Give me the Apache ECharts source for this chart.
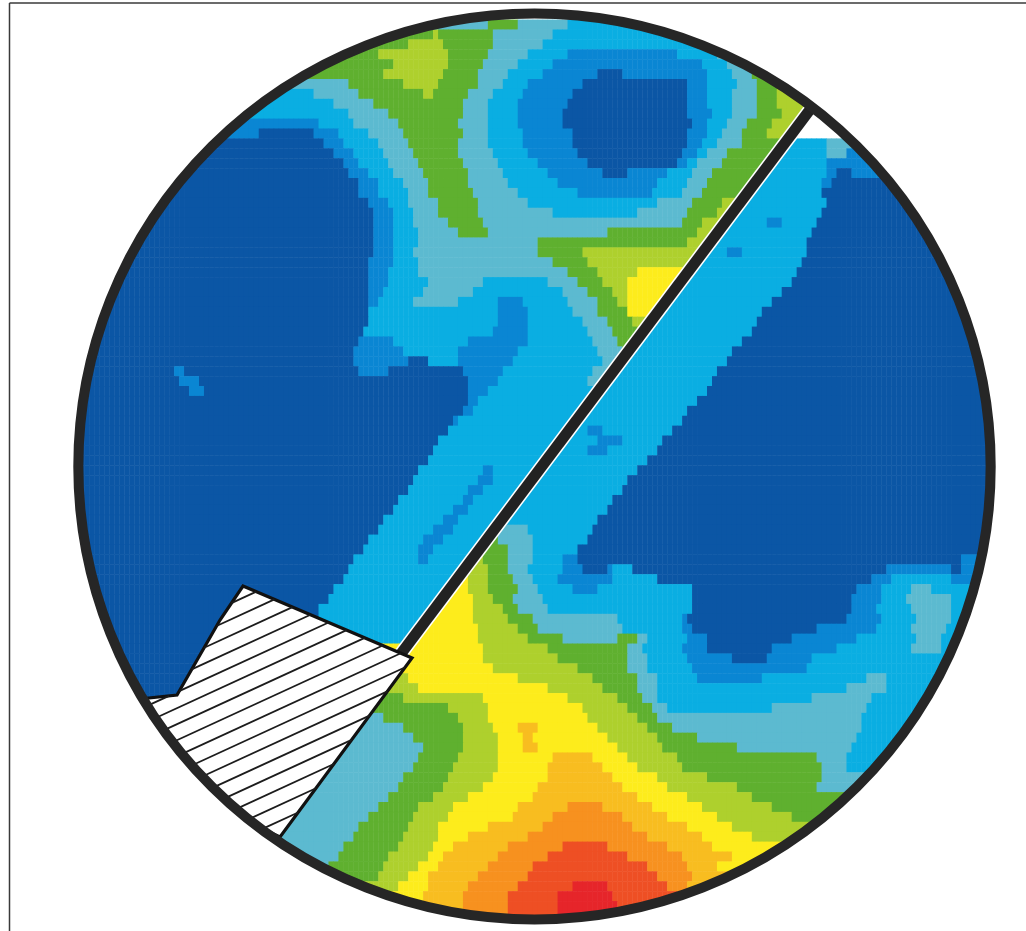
<!DOCTYPE html>
<html><head><meta charset="utf-8">
<style>html,body{margin:0;padding:0;background:#fff}#c{width:1026px;height:931px}</style>
<script src="https://cdn.jsdelivr.net/npm/echarts@6/dist/echarts.min.js"></script>
</head><body><div id="c"></div>
<script>
// Level names, low to high, and their colours
const levelNames = ['a','b','c','d','e','f','g','h','i','j','k'];
const levelColors = ['#0b56a5','#0a86d3','#0aaee2','#5cbad0','#5fb02f','#aed02d','#fdec1c','#f8bd20','#f7911f','#ee4f24','#e6252a'];
// Measured map: each scan line (10 units apart) lists level + the x where that level ends; x = no data
const scanLines = [
'','',
'd490 e522 d570 c800',
'e436 f442 e497 d555 c800',
'e412 f445 e494 d545 c800',
'e379 f449 e489 d532 c572 b680 c720 d800',
'e395 f449 e484 d519 c555 b704 c729 d800',
'e385 f447 e482 d509 c545 b602 a625 b710 c737 d756 e800',
'd350 e405 f440 e478 d505 c530 b585 a690 b712 c740 d760 e800',
'c315 d360 e425 f435 e470 d497 c525 b575 a690 b712 c736 d759 e782 f810',
'c335 d373 e465 d490 c520 b570 a690 b712 c735 d760 e780 f815 x999',
'c350 d390 e463 d488 c518 b565 a692 b713 c737 d760 e785 f811 x999',
'b320 c355 d400 e462 d490 c520 b567 a695 b710 c730 d752 e775 f803 x999',
'b258 a317 b342 c372 d405 e463 d490 c525 b575 a690 b708 c725 d745 e770 f796 x999',
'a325 b345 c380 d412 e462 d490 c525 b575 a688 b704 c722 d745 e789 c832 d850',
'a333 b355 c385 d417 e462 d497 c532 b582 a684 b700 c712 d730 e781 c832 d850 b860',
'a345 b362 c390 d420 e464 d500 c540 b592 a680 b690 c700 d725 e774 c830 b870',
'a352 b370 c395 d424 e468 d505 c550 b605 a630 b670 c696 d715 e767 c828 b842 a855 b870',
'a358 b378 c405 d428 e471 d512 c559 b660 c688 d712 e759 c825 b835 a880',
'a362 b382 c408 d429 e474 d519 c582 b655 c683 d705 e752 c825 a885',
'a372 b392 c410 d438 e481 d532 c660 d695 e725 f745 c828 a890',
'a374 b395 c415 d440 e482 d555 c640 d690 e718 f738 c826 a895',
'a377 b397 c417 d450 e485 d684 e706 f730 c770 b785 c818 a900',
'a377 b397 c418 d460 e490 d610 e700 f722 c815 a900',
'a377 b395 c418 d542 e690 f713 c812 a900',
'a375 b395 c415 d542 e584 f706 c730 b745 c811 a905',
'a372 b395 c418 d555 e589 f698 c806 a905',
'a372 b392 c420 d569 e599 f642 g690 c800 a910',
'a372 b392 c430 d485 c549 d580 e607 f629 g683 c795 a910',
'a372 b385 c425 d473 c565 d592 e615 f629 g676 c786 a910',
'a372 b380 c415 d460 c500 b525 c572 d600 e622 f630 g668 c777 a915',
'a372 c502 b532 c575 d602 e629 g661 c767 a915',
'a368 c500 b530 c585 d610 e635 f653 c760 a915',
'a366 c495 b532 c590 d616 e638 f646 c753 a920',
'a360 b395 c470 b528 c595 d620 e638 c745 a920',
'a355 b405 c462 b520 c600 d625 e631 c737 a920',
'a355 b410 a430 c460 b515 c603 d623 c730 a920',
'a175 b185 a360 b390 a465 b505 c595 d615 c722 a999',
'a182 b200 a470 b500 c590 d608 c716 a999',
'a190 b205 a472 b490 c708 a999',
'a472 b480 c700 a999',
'a465 b475 c692 a999',
'a455 b462 c684 a999',
'a450 c590 b605 c675 a999',
'a442 c600 b625 c666 a999',
'a435 c590 b610 c658 a999',
'a430 c649 a999',
'a422 c485 b497 c640 a999',
'a415 c480 b495 c632 a999',
'a408 c470 b485 c624 a999',
'a400 c465 b477 c617 a999',
'a395 c455 b470 c610 a999',
'a385 c445 b460 c602 a999',
'a380 c435 b455 c495 d530 c595 a999',
'a372 c425 b445 c488 e500 d535 c588 a999',
'a365 c420 b435 c481 e510 d533 c580 a999',
'a355 c418 b430 c473 f485 e510 d533 c565 b578 a967 b999',
'a352 c466 f489 e512 d530 c563 b585 a608 b615 c635 a891 b957 a967 b999',
'a345 c458 g470 f490 e515 d535 c560 b615 c658 a875 b897 c955 b999',
'a335 c450 g472 f492 e518 d542 c575 b602 c696 a860 b887 c914 d935 c999',
'a330 c443 g475 f497 e517 d545 c696 a855 b885 c912 d955 c999',
'a322 c435 g477 f505 e520 d548 c696 a853 b882 c916 d956 c999',
'a320 c428 g477 f510 e535 d620 c684 b691 a850 b887 c920 d955 c999',
'a310 c421 g479 f519 e542 d625 c684 b694 a820 b881 c917 d950 c999',
'a300 c413 g482 f529 e565 d619 e642 d650 c690 b708 a795 b860 c918 d945 c999',
'a300 g485 f549 e629 d647 c684 b711 a776 b841 c917 d945 c999',
'a300 g487 f562 e629 d649 c691 b734 a771 b817 c999',
'a300 g497 f578 e632 d652 c697 b811 c999',
'a300 f410 g522 f597 e640 d659 c701 b767 c870 d888 c999',
'a300 f422 g552 f607 e640 d660 c851 d891 c999',
'a250 e405 f487 g572 f619 e644 d662 c817 d877 c999',
'a250 e449 f489 g584 f630 e654 d672 c777 d872 c999',
'd385 e458 f492 g592 f642 e662 d867 c999',
'd405 e465 f494 g522 h538 g600 f650 e675 d866 c999',
'd417 e466 f499 g523 h537 g609 f659 e700 d861 c999',
'd424 e466 f502 g525 h540 g619 f667 e741 d856 c999',
'd422 e462 f502 g555 h595 g632 f680 e821 d852 c999',
'd414 e455 f499 g552 h605 g642 f684 e827 d850 c999',
'd405 e450 f494 g549 h615 g658 f709 e824 d999',
'd399 e444 f484 g542 h625 g670 f739 e822 d999',
'd389 e434 f470 g534 h639 g689 f757 e999',
'd380 e422 f457 g522 h568 i605 h654 g704 f776 e999',
'd372 e417 f449 g515 h555 i625 h669 g719 f794 e999',
'd360 e410 f441 g489 h545 i635 h692 g737 f999',
'd357 e405 f439 g469 h532 i652 h704 g754 f999',
'd347 e399 f435 g455 h509 i565 j609 i668 h717 g999',
'd342 e392 f432 g445 h502 i549 j631 i684 h734 g999',
'd330 e387 f422 g440 h489 i535 j649 i691 h720 g999',
'd330 e379 f412 g432 h479 i529 j659 i697 h999',
'f402 g429 h472 i519 j575 k610 j669 i690 h999',
'g425 h465 i512 j560 k615 j680 i999',
'h465 i512 j560 k620 j660 i999',
'i512 j560 k620 j999',
''
];
// Overlay outlines (in the 1026 x 931 data space)
const dividerEnds = [[812,107],[400,655]];
const excludedZone = [[243,586],[412,658],[280,837],[200,800],[130,700],[177,695],[220,620]];
const waferCentre = [534.5,466.5];

const cellW = 5, cellH = 10, cols = 206, nRows = scanLines.length;
const heatData = [];
scanLines.forEach((line, r) => {
  if (!line) return;
  let start = 0;
  const toks = line.split(' ');
  toks.forEach((tok, ti) => {
    const lv = levelNames.indexOf(tok[0]);
    // the last run of a scan line reaches the wafer's edge
    const end = ti === toks.length - 1 ? cols * cellW : +tok.slice(1);
    for (let c = 0; c < cols; c++) {
      const mid = c * cellW + cellW / 2;
      if (mid >= start && mid < end && lv >= 0) heatData.push([c, r, lv]);
    }
    start = end;
  });
});

function decor(z, build) {
  return {type:'custom', xAxisIndex:1, yAxisIndex:1, coordinateSystem:'cartesian2d', silent:true, z, clip:false, animation:false,
    data:[0], renderItem:(p, api) => ({type:'group', children: build(api)})};
}
function ell(api, r, w, col) {
  const c = api.coord(waferCentre);
  return {type:'circle', x:c[0], y:c[1], scaleX:1.007, shape:{cx:0, cy:0, r}, style:{fill:'none', stroke:col, lineWidth:w}};
}
function hatchLines(api) {
  const out = [], m = 0.46, P = excludedZone;
  for (let k = -30; k < 30; k++) {
    const q = 853.6 + 16 * k, hits = [];
    for (let i = 0; i < P.length; i++) {
      const a = P[i], b = P[(i + 1) % P.length];
      const fa = a[1] + m * a[0] - q, fb = b[1] + m * b[0] - q;
      if (fa * fb < 0) { const t = fa / (fa - fb); hits.push(a[0] + t * (b[0] - a[0])); }
    }
    hits.sort((u, v) => u - v);
    for (let i = 0; i + 1 < hits.length; i += 2) {
      const s = api.coord([hits[i], q - m * hits[i]]), e = api.coord([hits[i+1], q - m * hits[i+1]]);
      out.push({type:'line', shape:{x1:s[0], y1:s[1], x2:e[0], y2:e[1]}, style:{stroke:'#1c1c1c', lineWidth:1.8}});
    }
  }
  return out;
}

const chart = echarts.init(document.getElementById('c'), null, {renderer:'canvas'});
chart.setOption({
  animation:false, backgroundColor:'#fff',
  grid:[{left:0, top:-5, width:cols*cellW, height:nRows*cellH, containLabel:false},
        {left:0, top:0, width:1026, height:931}],
  xAxis:[{type:'category', gridIndex:0, show:false, data:Array.from({length:cols},(_, i)=>i)},
         {type:'value', gridIndex:1, show:false, min:0, max:1026}],
  yAxis:[{type:'category', gridIndex:0, show:false, inverse:true, data:Array.from({length:nRows},(_, i)=>i)},
         {type:'value', gridIndex:1, show:false, min:0, max:931, inverse:true}],
  visualMap:{show:false, type:'piecewise', seriesIndex:0, dimension:2,
    pieces:levelColors.map((color, i)=>({value:i, color}))},
  series:[
    {type:'heatmap', data:heatData, xAxisIndex:0, yAxisIndex:0, silent:true, z:1, progressive:0, emphasis:{disabled:true}},
    decor(2, api => {
      const a = api.coord(dividerEnds[0]), b = api.coord(dividerEnds[1]), sh = {x1:a[0], y1:a[1], x2:b[0], y2:b[1]};
      return [{type:'line', shape:sh, style:{stroke:'#fff', lineWidth:14}},
              {type:'line', shape:sh, style:{stroke:'#222', lineWidth:11}}];
    }),
    decor(3, api => [
      {type:'polygon', shape:{points:excludedZone.map(p=>api.coord(p))}, style:{fill:'#fff', stroke:'#111', lineWidth:3.2, lineJoin:'miter'}},
      ...hatchLines(api)
    ]),
    decor(4, api => [ell(api, 676, 448, '#fff')]),
    decor(5, api => [ell(api, 453, 10, '#262626')]),
    decor(6, api => {
      const L = api.coord([9.5,3]), T = api.coord([1026,3]), B = api.coord([9.5,931]);
      return [
        {type:'line', shape:{x1:L[0], y1:L[1], x2:T[0], y2:T[1]}, style:{stroke:'#3a3a3a', lineWidth:1.5}},
        {type:'line', shape:{x1:L[0], y1:L[1], x2:B[0], y2:B[1]}, style:{stroke:'#3a3a3a', lineWidth:1.5}}
      ];
    })
  ]
});
</script></body></html>
